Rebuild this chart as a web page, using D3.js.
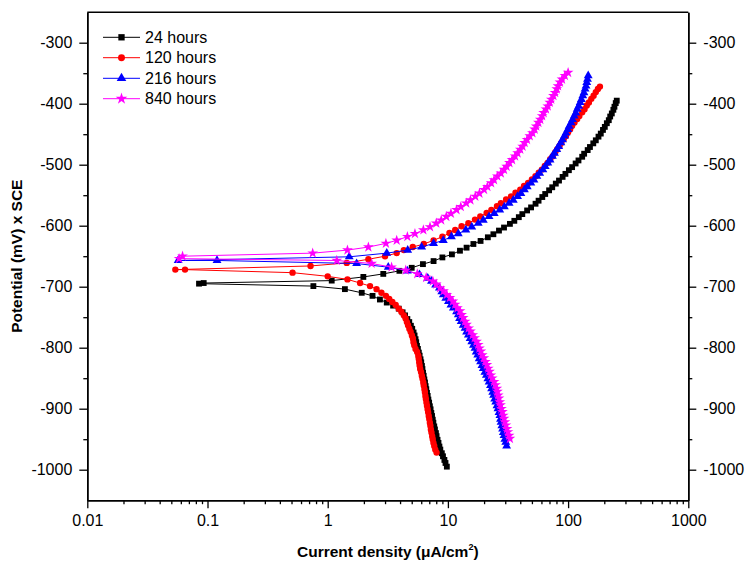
<!DOCTYPE html>
<html>
<head>
<meta charset="utf-8">
<script src="https://cdn.jsdelivr.net/npm/d3@7/dist/d3.min.js"></script>
<style>
  html, body { margin: 0; padding: 0; background: #fff; }
  svg { display: block; font-family: "Liberation Sans", Arial, sans-serif; }
</style>
</head>
<body>
<svg id="chart" width="747" height="564"></svg>
<script>
// ---- Data: [potential (mV vs SCE), current density (µA/cm²)] in scan order ----
const seriesLabels = ["24 hours", "120 hours", "216 hours", "840 hours"];

const hours24 = [
[-995,9.8],[-989,9.55],[-984,9.35],[-978,9.1],[-973,8.9],[-967,8.65],[-962,8.5],[-956,8.35],[-951,8.2],[-945,8.05],[-940,7.95],[-934,7.8],[-929,7.7],[-923,7.57],[-918,7.48],[-912,7.38],[-907,7.28],[-901,7.18],[-896,7.08],[-890,6.98],[-885,6.88],[-879,6.79],[-874,6.7],[-868,6.61],[-863,6.53],[-857,6.45],[-852,6.37],[-846,6.29],[-841,6.21],[-835,6.14],[-830,6.08],[-824,6.0],[-819,5.92],[-813,5.82],[-808,5.73],[-802,5.63],[-797,5.53],[-791,5.45],[-786,5.38],[-780,5.28],[-775,5.18],[-769,5.05],[-764,4.92],[-758,4.77],[-753,4.6],[-747,4.4],[-742,4.2],[-736,3.9],[-731,3.5],[-726,3.1],[-721,2.72],[-715,2.36],[-710,1.92],[-704,1.39],[-699,0.76],[-695,0.085],[-694,0.093],[-690,1.08],[-684,1.98],[-679,2.9],[-674,3.95],[-669,5.0],[-663,6.2],[-658,7.6],[-652,9.0],[-647,10.8],[-641,12.6],[-636,14.3],[-630,16.3],[-625,18.7],[-619,21.5],[-614,23.9],[-608,26.6],[-603,29.3],[-597,32.8],[-592,35.7],[-586,38.9],[-581,41.6],[-575,45.6],[-570,49.2],[-564,53.6],[-559,56.8],[-553,61],[-548,64.5],[-542,69.5],[-537,73.8],[-531,79],[-526,84],[-520,90],[-515,95],[-509,101.5],[-504,108],[-498,115.5],[-493,122],[-487,131],[-482,136],[-476,145.5],[-471,152],[-465,162],[-460,170],[-454,179],[-449,187],[-443,195],[-438,202],[-432,210],[-427,218],[-421,224],[-416,231],[-410,238],[-405,243],[-399,249],[-395,254]
];

const hours120 = [
[-972,8.05],[-967,7.85],[-961,7.7],[-956,7.58],[-950,7.48],[-945,7.4],[-939,7.3],[-934,7.22],[-928,7.15],[-923,7.08],[-917,7.0],[-912,6.93],[-906,6.85],[-901,6.78],[-895,6.7],[-890,6.63],[-884,6.56],[-879,6.5],[-873,6.44],[-868,6.38],[-862,6.3],[-857,6.24],[-851,6.15],[-846,6.07],[-840,5.98],[-835,5.88],[-829,5.82],[-824,5.77],[-818,5.72],[-813,5.67],[-807,5.55],[-802,5.38],[-796,5.25],[-791,5.17],[-785,5.12],[-780,5.02],[-774,4.9],[-769,4.78],[-763,4.66],[-758,4.56],[-752,4.45],[-747,4.3],[-741,4.1],[-736,3.9],[-730,3.68],[-725,3.45],[-720,3.25],[-715,3.05],[-710,2.8],[-704,2.55],[-699,2.25],[-694,1.86],[-688,1.46],[-683,1.0],[-677,0.51],[-672,0.065],[-672,0.054],[-666,0.72],[-661,1.44],[-655,2.18],[-650,3.0],[-645,3.75],[-640,4.3],[-635,5.1],[-630,6.3],[-624,7.6],[-618,9.0],[-612,10.3],[-607,11.5],[-601,13.0],[-596,14.8],[-590,16.8],[-585,18.6],[-579,21],[-574,23],[-568,25.6],[-563,27.6],[-557,30.5],[-552,33.5],[-546,36.5],[-541,40],[-535,43],[-530,46.5],[-524,50],[-519,53.5],[-513,57],[-508,60.5],[-502,64],[-497,67.5],[-491,71],[-486,74.5],[-480,78],[-475,81],[-469,85],[-464,88],[-458,92],[-453,96],[-447,100],[-442,104],[-436,108],[-431,113],[-425,119],[-420,124],[-414,131],[-409,137],[-403,143],[-398,149],[-392,156],[-387,163],[-381,170],[-376,177],[-372,184]
];

const hours216 = [
[-961,30.8],[-955,30.3],[-950,29.8],[-944,29.3],[-939,28.9],[-933,28.5],[-928,28.1],[-922,27.7],[-917,27.4],[-911,27.1],[-906,26.6],[-900,26.1],[-895,25.6],[-889,25.0],[-884,24.5],[-878,24.0],[-873,23.6],[-867,23.1],[-862,22.6],[-856,22.0],[-851,21.5],[-845,20.9],[-840,20.3],[-834,19.7],[-829,19.2],[-823,18.7],[-818,18.2],[-812,17.7],[-807,17.2],[-801,16.8],[-796,16.3],[-790,15.8],[-785,15.3],[-779,14.8],[-774,14.3],[-768,13.9],[-763,13.4],[-757,12.9],[-752,12.5],[-746,12.2],[-741,11.8],[-735,11.1],[-730,10.6],[-724,10.1],[-719,9.6],[-713,9.16],[-708,8.9],[-702,8.5],[-697,7.9],[-691,7.3],[-686,6.8],[-680,5.8],[-674,4.6],[-668,3.19],[-662,1.74],[-657,0.12],[-657,0.057],[-651,1.51],[-645,3.1],[-640,4.63],[-635,6.05],[-629,7.6],[-624,9.16],[-618,10.7],[-613,12.2],[-607,14.1],[-602,15.8],[-596,17.9],[-591,19.7],[-585,22],[-580,24.3],[-574,27],[-569,29.5],[-563,32.3],[-558,35],[-552,38],[-547,40.5],[-541,43.3],[-536,45.7],[-530,49],[-525,52],[-519,55],[-514,58],[-508,61.7],[-503,64.5],[-497,67.8],[-492,70.8],[-486,74],[-481,77],[-475,80.5],[-470,83.5],[-464,87],[-459,90],[-453,93.3],[-448,96],[-442,99.5],[-437,102],[-431,106],[-426,109],[-420,112.5],[-415,116],[-409,119],[-404,122.5],[-398,126],[-393,129],[-387,132.5],[-382,135.5],[-376,138.5],[-371,141],[-365,143],[-360,145],[-354,147]
];

const hours840 = [
[-949,32.8],[-944,32.3],[-938,31.6],[-933,31.0],[-927,30.4],[-922,29.8],[-916,29.3],[-911,28.9],[-905,28.4],[-900,27.9],[-894,27.4],[-889,27.0],[-883,26.6],[-878,26.2],[-872,25.8],[-867,25.5],[-861,24.9],[-856,24.2],[-850,23.4],[-845,22.8],[-839,22.2],[-834,21.7],[-828,21.1],[-823,20.5],[-817,19.9],[-812,19.3],[-806,18.8],[-801,18.3],[-795,17.9],[-790,17.3],[-784,16.7],[-779,16.1],[-773,15.4],[-768,14.9],[-762,14.3],[-757,13.9],[-751,13.4],[-746,13.0],[-740,12.6],[-735,12.0],[-729,11.5],[-724,11.0],[-718,10.4],[-713,9.8],[-707,9.2],[-702,8.6],[-696,8.0],[-691,7.5],[-685,6.6],[-679,5.56],[-673,4.46],[-668,3.4],[-662,2.32],[-657,1.19],[-654,0.058],[-650,0.062],[-645,0.75],[-640,1.46],[-635,2.18],[-629,3.05],[-624,3.75],[-618,4.6],[-613,5.32],[-607,6.25],[-602,7.1],[-596,8.0],[-591,8.8],[-585,9.7],[-580,10.6],[-574,11.8],[-569,12.8],[-563,14.2],[-558,15.4],[-552,16.9],[-547,18.3],[-541,20],[-536,21.3],[-530,22.9],[-525,24.2],[-519,25.8],[-514,27.6],[-508,29.3],[-503,30.8],[-497,32.5],[-492,34.2],[-486,36.2],[-481,38],[-475,40],[-470,41.8],[-464,43.5],[-459,45.5],[-453,48],[-448,50.5],[-442,52.7],[-437,54.3],[-431,56.6],[-426,58.7],[-420,60.8],[-415,62.6],[-409,65.4],[-404,67.7],[-398,70.4],[-393,72.4],[-387,75.5],[-382,78],[-376,80.5],[-371,82.5],[-365,85.5],[-360,89],[-354,94],[-349,100]
];

const xMajorTicks = [0.01, 0.1, 1, 10, 100, 1000];
const xTickLabels = ["0.01", "0.1", "1", "10", "100", "1000"];
const yMajorTicks = [-1000, -900, -800, -700, -600, -500, -400, -300];
const yTickLabels = ["-1000", "-900", "-800", "-700", "-600", "-500", "-400", "-300"];
const yMinorTicks = [-950, -850, -750, -650, -550, -450, -350];

// ---- Styling / layout ----
const colors = ["#000000", "#ff0000", "#0000ff", "#ff00ff"];
const symbols = [d3.symbolSquare, d3.symbolCircle, d3.symbolTriangle, d3.symbolStar];
const symSizes = [34, 32, 34, 36];
const allSeries = [hours24, hours120, hours216, hours840];
const FONT = "'Liberation Sans', Arial, sans-serif";

const svg = d3.select("#chart");
const pLeft = 87.3, pRight = 688.3, pTop = 12.2, pBottom = 500.2;

const x = d3.scaleLog().domain([0.01, 1000]).range([pLeft, pRight]);
const y = d3.scaleLinear().domain([-1050, -250]).range([pBottom, pTop]);

const xMinorTicks = [];
for (let d = -2; d < 3; d++) for (let k = 2; k <= 9; k++) xMinorTicks.push(k * Math.pow(10, d));

function styleAxis(g) {
  g.select(".domain").attr("stroke", "#000").attr("stroke-width", 1.5);
  g.selectAll(".tick line").attr("stroke", "#000").attr("stroke-width", 1.3);
  g.selectAll("text").attr("fill", "#000").attr("font-size", 16).attr("font-family", FONT);
}

svg.append("g").attr("transform", `translate(0,${pBottom})`)
  .call(d3.axisBottom(x).tickValues(xMinorTicks).tickSize(4).tickSizeOuter(0).tickFormat(""))
  .call(styleAxis);
svg.append("g").attr("transform", `translate(0,${pBottom})`)
  .call(d3.axisBottom(x).tickValues(xMajorTicks).tickSize(8).tickSizeOuter(0).tickPadding(6)
    .tickFormat((d, i) => xTickLabels[i]))
  .call(styleAxis);

svg.append("g").attr("transform", `translate(${pLeft},0)`)
  .call(d3.axisLeft(y).tickValues(yMinorTicks).tickSize(4).tickSizeOuter(0).tickFormat(""))
  .call(styleAxis);
svg.append("g").attr("transform", `translate(${pLeft},0)`)
  .call(d3.axisLeft(y).tickValues(yMajorTicks).tickSize(8).tickSizeOuter(0).tickPadding(7)
    .tickFormat((d, i) => yTickLabels[i]))
  .call(styleAxis);

svg.append("g").attr("transform", `translate(${pRight},0)`)
  .call(d3.axisRight(y).tickValues(yMinorTicks).tickSize(4).tickSizeOuter(0).tickFormat(""))
  .call(styleAxis);
svg.append("g").attr("transform", `translate(${pRight},0)`)
  .call(d3.axisRight(y).tickValues(yMajorTicks).tickSize(8).tickSizeOuter(0).tickPadding(7)
    .tickFormat((d, i) => yTickLabels[i]))
  .call(styleAxis);

svg.append("line").attr("x1", pLeft).attr("x2", pRight).attr("y1", pTop).attr("y2", pTop)
  .attr("stroke", "#000").attr("stroke-width", 1.5);

svg.append("text").attr("transform", `translate(17,${(pTop + pBottom) / 2}) rotate(-90)`)
  .attr("text-anchor", "middle").attr("dy", "0.35em").attr("font-family", FONT)
  .attr("font-size", 15.5).attr("font-weight", "bold").text("Potential (mV) x SCE");

const xt = svg.append("text").attr("x", (pLeft + pRight) / 2).attr("y", 557)
  .attr("text-anchor", "middle").attr("font-family", FONT)
  .attr("font-size", 15.5).attr("font-weight", "bold");
xt.append("tspan").text("Current density (\u03bcA/cm");
xt.append("tspan").attr("font-size", 9).attr("dy", -7).text("2");
xt.append("tspan").attr("dy", 7).text(")");

const line = d3.line().x(d => x(d[1])).y(d => y(d[0]));
const plot = svg.append("g");
allSeries.forEach((data, i) => {
  const g = plot.append("g");
  g.append("path").datum(data).attr("d", line)
    .attr("fill", "none").attr("stroke", colors[i]).attr("stroke-width", 1);
  g.selectAll("path.m").data(data).join("path").attr("class", "m")
    .attr("transform", d => `translate(${x(d[1])},${y(d[0])})`)
    .attr("d", d3.symbol().type(symbols[i]).size(symSizes[i]))
    .attr("fill", colors[i]);
});

const legendRows = [37.3, 57.7, 78.3, 98.7];
seriesLabels.forEach((lab, i) => {
  const ly = legendRows[i];
  svg.append("line").attr("x1", 103).attr("x2", 140).attr("y1", ly).attr("y2", ly)
    .attr("stroke", colors[i]).attr("stroke-width", 1);
  svg.append("path").attr("transform", `translate(121.5,${ly})`)
    .attr("d", d3.symbol().type(symbols[i]).size(symSizes[i] + 6)).attr("fill", colors[i]);
  svg.append("text").attr("x", 145).attr("y", ly).attr("dy", "0.36em").attr("font-family", FONT)
    .attr("font-size", 16).text(lab);
});
</script>
</body>
</html>
